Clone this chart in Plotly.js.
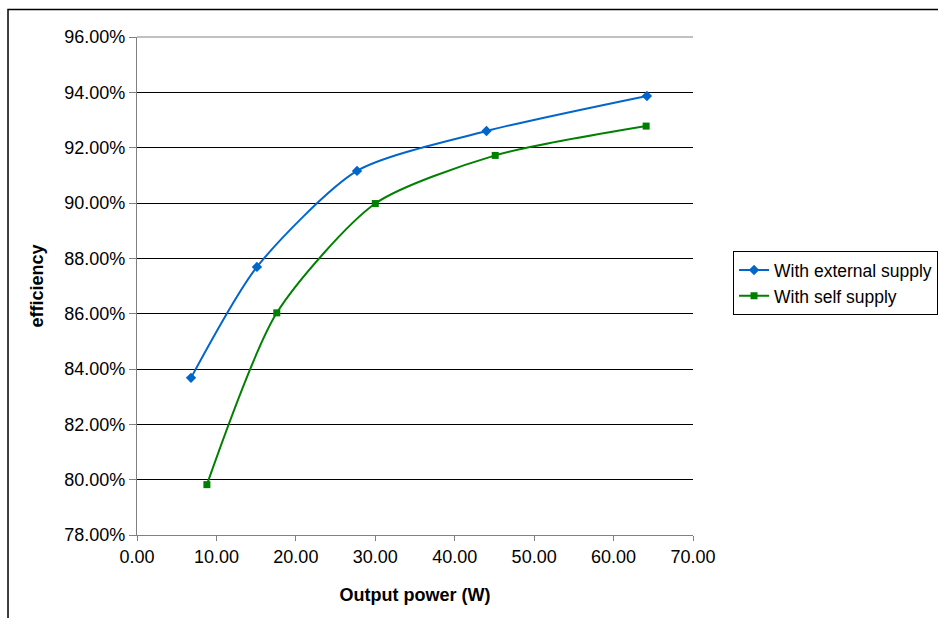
<!DOCTYPE html>
<html><head><meta charset="utf-8">
<script src="https://cdn.plot.ly/plotly-3.0.1.min.js"></script>
<style>body{margin:0;background:#fff}#c{width:938px;height:618px}</style>
</head><body><div id="c"></div>
<script>
const extX = [6.8, 15.1, 27.7, 44.0, 64.2];
const extY = [0.8368, 0.8769, 0.9116, 0.9260, 0.9387];
const selfX = [8.8, 17.6, 30.0, 45.1, 64.1];
const selfY = [0.7982, 0.8603, 0.8998, 0.9172, 0.9278];
const names = ['With external supply', 'With self supply'];

const fam = 'Liberation Sans, Arial, sans-serif';
const traces = [
  {x: extX, y: extY, name: names[0], mode: 'lines+markers', line: {color: '#0066CC', width: 2, shape: 'spline', smoothing: 0.7},
   marker: {symbol: 'diamond', size: 8, color: '#0066CC'}},
  {x: selfX, y: selfY, name: names[1], mode: 'lines+markers', line: {color: '#008000', width: 2, shape: 'spline', smoothing: 0.7},
   marker: {symbol: 'square', size: 7, color: '#008000'}}
];
const layout = {
  width: 938, height: 618,
  margin: {l: 137, r: 245, t: 37, b: 83, autoexpand: false},
  paper_bgcolor: '#fff', plot_bgcolor: '#fff',
  font: {family: fam, size: 18, color: '#000'},
  showlegend: true,
  legend: {x: 1.072, y: 0.57, xanchor: 'left', yanchor: 'top', bordercolor: '#000', borderwidth: 1, bgcolor: '#fff',
    font: {family: fam, size: 17.5, color: '#000'}, itemwidth: 30},
  xaxis: {range: [0, 70], dtick: 10, tick0: 0, tickformat: '.2f', showgrid: false, zeroline: false,
    showline: true, linecolor: '#808080', linewidth: 1, ticks: 'outside', ticklen: 5, tickcolor: '#808080',
    title: {text: '<b>Output power (W)</b>', font: {size: 18}, standoff: 22}},
  yaxis: {range: [0.78, 0.96], dtick: 0.02, tick0: 0.78, tickformat: '.2%', showgrid: true, gridcolor: '#000', gridwidth: 1,
    zeroline: false, showline: true, linecolor: '#808080', linewidth: 1, ticks: 'outside', ticklen: 7, tickcolor: '#808080',
    title: {text: '<b>efficiency</b>', font: {size: 18}, standoff: 16}},
  shapes: [
    {type: 'rect', xref: 'paper', yref: 'paper', x0: -0.232, x1: 1.6, y0: -0.3, y1: 1.055, line: {color: '#000', width: 1.5}, fillcolor: 'rgba(0,0,0,0)', layer: 'below'},
    {type: 'line', xref: 'paper', yref: 'paper', x0: 0, x1: 1, y0: 1, y1: 1, line: {color: '#c0c0c0', width: 2}}
  ]
};
Plotly.newPlot('c', traces, layout, {displayModeBar: false, staticPlot: true});
</script></body></html>
